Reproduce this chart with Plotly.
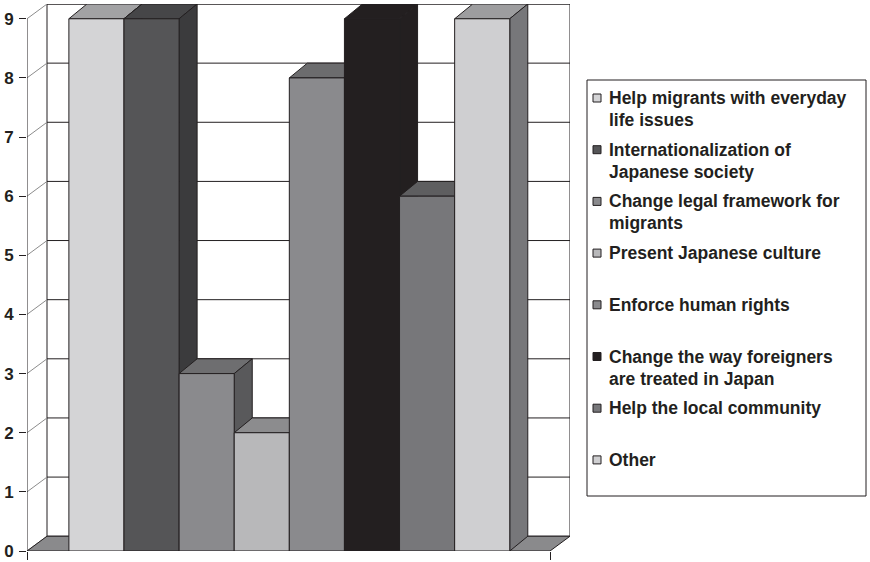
import textwrap
import plotly.graph_objects as go

# ---------------- data ----------------
categories = [
    "Help migrants with everyday life issues",
    "Internationalization of Japanese society",
    "Change legal framework for migrants",
    "Present Japanese culture",
    "Enforce human rights",
    "Change the way foreigners are treated in Japan",
    "Help the local community",
    "Other",
]
values = [9, 9, 3, 2, 8, 9, 6, 9]
y_ticks = [0, 1, 2, 3, 4, 5, 6, 7, 8, 9]

# ---------------- styles ----------------
front_colors = ["#d4d4d6", "#555557", "#8a8a8d", "#b8b8ba", "#8a8a8d", "#231f20", "#77777a", "#cfcfd1"]
top_colors = ["#a2a2a4", "#464648", "#6e6e70", "#8c8c8e", "#6c6c6e", "#231f20", "#5e5e60", "#9d9d9f"]
side_colors = ["#8a8a8c", "#3b3b3d", "#59595b", "#6e6e70", "#5c5c5e", "#231f20", "#4e4e50", "#77777a"]
legend_colors = ["#d4d4d6", "#555557", "#8a8a8d", "#b8b8ba", "#8a8a8d", "#231f20", "#77777a", "#cfcfd1"]
EDGE = "#231f20"
FONT = "Liberation Sans, Arial, sans-serif"

# 3D geometry (axis units)
GAP_L, BAR_W, GAP_R = 0.76, 1.0, 0.73
WALL_DX, BAR_DX, DY = 0.363, 0.327, 0.25
YMAX = max(y_ticks)
FR = GAP_L + len(values) * BAR_W + GAP_R
X_MAX = FR + WALL_DX
Y_TOP = YMAX + DY

# pixel layout
W, H = 870, 562
ML, MR, MT, MB = 27, 300, 4, 11
PW, PH = W - ML - MR, H - MT - MB

def px(x):
    return (x - ML) / PW

def py(y):
    return (H - MB - y) / PH

fig = go.Figure()

def poly(xs, ys, fill, line=EDGE, width=1):
    fig.add_trace(go.Scatter(
        x=list(xs) + [xs[0]], y=list(ys) + [ys[0]], mode="lines", fill="toself",
        fillcolor=fill, line=dict(color=line, width=width),
        hoverinfo="skip", showlegend=False))

def segs(pairs, color, width=1):
    xs, ys = [], []
    for (x0, y0), (x1, y1) in pairs:
        xs += [x0, x1, None]
        ys += [y0, y1, None]
    fig.add_trace(go.Scatter(x=xs, y=ys, mode="lines", line=dict(color=color, width=width),
                             hoverinfo="skip", showlegend=False))

# back wall
poly([WALL_DX, FR + WALL_DX, FR + WALL_DX, WALL_DX], [DY, DY, YMAX + DY, YMAX + DY], "white")
# back wall gridlines
segs([((WALL_DX, v + DY), (FR + WALL_DX, v + DY)) for v in y_ticks[1:]], EDGE)
# side wall diagonals
segs([((0, v), (WALL_DX, v + DY)) for v in y_ticks], "#8c8c8c")
# floor
poly([0, FR, FR + WALL_DX, WALL_DX], [0, 0, DY, DY], "#8a8a8c")
# value axis line
segs([((0, 0), (0, YMAX))], EDGE)

# bars (left to right, painter's order)
for i, v in enumerate(values):
    x0 = GAP_L + i * BAR_W
    x1 = x0 + BAR_W
    poly([x0, x1, x1 + BAR_DX, x0 + BAR_DX], [v, v, v + DY, v + DY], top_colors[i])
    poly([x1, x1 + BAR_DX, x1 + BAR_DX, x1], [0, DY, v + DY, v], side_colors[i])
    poly([x0, x1, x1, x0], [0, 0, v, v], front_colors[i])

# legend (manual, Excel-like)
shapes = [dict(type="rect", xref="paper", yref="paper",
               x0=px(587), x1=px(866), y0=py(80), y1=py(496),
               line=dict(color=EDGE, width=1), fillcolor="rgba(0,0,0,0)")]
annotations = []
for k, label in enumerate(categories):
    cy = 98 + k * 51.7
    shapes.append(dict(type="rect", xref="paper", yref="paper",
                       x0=px(593), x1=px(601), y0=py(cy + 4), y1=py(cy - 4),
                       line=dict(color=EDGE, width=1), fillcolor=legend_colors[k]))
    for j, line in enumerate(textwrap.wrap(label, 28)):
        annotations.append(dict(xref="paper", yref="paper", x=px(607), y=py(cy + j * 22),
                                xanchor="left", yanchor="middle", showarrow=False, text=line,
                                font=dict(family=FONT, size=17.5, color="#231f20", weight="bold")))

fig.update_layout(
    width=W, height=H, autosize=False,
    margin=dict(l=ML, r=MR, t=MT, b=MB, pad=0, autoexpand=False),
    paper_bgcolor="white", plot_bgcolor="white",
    showlegend=False,
    xaxis=dict(range=[0, X_MAX], showgrid=False, zeroline=False, showline=False,
               tickmode="array", tickvals=[0, FR], ticks="outside", ticklen=8,
               tickcolor=EDGE, showticklabels=False, fixedrange=True, automargin=False),
    yaxis=dict(range=[0, Y_TOP], showgrid=False, zeroline=False, showline=False,
               tickmode="array", tickvals=y_ticks, ticks="outside", ticklen=7,
               tickcolor=EDGE, ticklabelstandoff=2, ticklabeloverflow="allow",
               tickfont=dict(family=FONT, size=17, color="#231f20", weight="bold"),
               fixedrange=True, automargin=False),
    shapes=shapes, annotations=annotations,
)

fig.write_html("out.html")
